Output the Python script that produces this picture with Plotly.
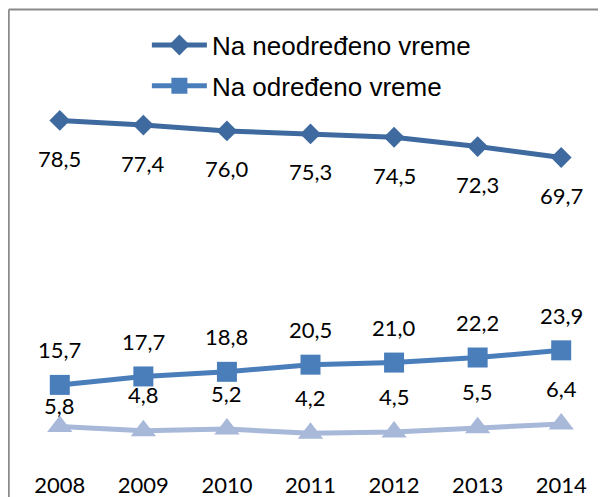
import plotly.graph_objects as go

years = ["2008", "2009", "2010", "2011", "2012", "2013", "2014"]
neodredjeno = [78.5, 77.4, 76.0, 75.3, 74.5, 72.3, 69.7]
odredjeno = [15.7, 17.7, 18.8, 20.5, 21.0, 22.2, 23.9]
treca = [5.8, 4.8, 5.2, 4.2, 4.5, 5.5, 6.4]

series_names = ["Na neodređeno vreme", "Na određeno vreme", ""]

c1 = "#3E6A9F"
c2 = "#4A7EBB"
c3 = "#A7B8D9"

def fmt(v):
    return f"{v:.1f}".replace(".", ",")

fig = go.Figure()
fig.add_trace(go.Scatter(
    x=years, y=neodredjeno, name=series_names[0], mode="lines+markers",
    line=dict(color=c1, width=5), legendgroup="a",
    marker=dict(symbol="diamond", size=16, color=c1, line=dict(width=0)),
    cliponaxis=False))
fig.add_trace(go.Scatter(
    x=years, y=odredjeno, name=series_names[1], mode="lines+markers",
    line=dict(color=c2, width=5), legendgroup="b",
    marker=dict(symbol="square", size=20, color=c2, line=dict(width=0)),
    cliponaxis=False))
fig.add_trace(go.Scatter(
    x=years, y=treca, name=series_names[2], mode="lines+markers",
    line=dict(color=c3, width=5), showlegend=False,
    marker=dict(symbol="triangle-up", size=22, color=c3, line=dict(width=0)),
    cliponaxis=False))

label_font = dict(family="Lato", size=22, color="#000000")
annotations = []
for i, v in enumerate(neodredjeno):
    annotations.append(dict(x=i, y=v, xref="x", yref="y", text=fmt(v),
                            showarrow=False, yshift=-38, font=label_font))
for i, v in enumerate(odredjeno):
    annotations.append(dict(x=i, y=v, xref="x", yref="y", text=fmt(v),
                            showarrow=False, yshift=35, font=label_font))
shift3 = [21, 36, 36, 36, 36, 36, 36]
for i, (v, s) in enumerate(zip(treca, shift3)):
    annotations.append(dict(x=i, y=v, xref="x", yref="y", text=fmt(v),
                            showarrow=False, yshift=s, font=label_font))

fig.update_layout(
    width=598, height=489,
    margin=dict(l=10.25, r=3.25, t=63.5, b=46, pad=0, autoexpand=False),
    paper_bgcolor="white", plot_bgcolor="white",
    showlegend=True,
    legend=dict(x=0.2203, y=1.133,
                xanchor="left", yanchor="top",
                font=dict(family="Liberation Sans", size=26, color="#000000"),
                bgcolor="rgba(0,0,0,0)", itemwidth=55, tracegroupgap=4,
                itemsizing="trace"),
    xaxis=dict(type="category", range=[-0.5, 6.5], showgrid=False,
               showline=False, zeroline=False, ticks="",
               tickfont=dict(family="Lato", size=22, color="#000000"),
               ticklabelstandoff=19, automargin=False),
    yaxis=dict(range=[0, 90], visible=False, showgrid=False, zeroline=False,
               automargin=False),
    annotations=annotations,
    shapes=[
        dict(type="line", xref="paper", yref="paper",
             x0=-0.0158, x1=-0.0158, y0=-0.2, y1=1.1647,
             line=dict(color="#8A8A8A", width=2)),
        dict(type="line", xref="paper", yref="paper",
             x0=-0.0158, x1=1.1, y0=1.1647, y1=1.1647,
             line=dict(color="#8A8A8A", width=2)),
    ],
)

fig.write_html("out.html")
